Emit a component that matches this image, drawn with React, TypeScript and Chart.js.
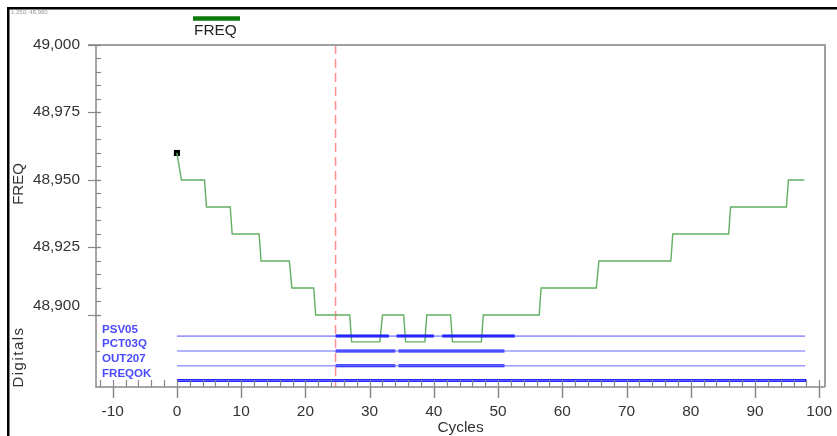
import React, { useEffect, useRef } from "react";
import { Chart, registerables } from "chart.js";

Chart.register(...registerables);

// FREQ analog trace (cycles, value)
const FREQ_X = [0, 0.7, 4.3, 4.6, 8.3, 8.6, 12.8, 13.1, 17.5, 17.9, 21.3, 21.6, 26.9, 27.2, 31.6, 32.0, 35.3, 35.6, 38.6, 38.9, 42.6, 42.9, 47.4, 47.7, 56.4, 56.7, 65.3, 65.7, 76.9, 77.2, 85.9, 86.2, 94.9, 95.2, 97.7];
const FREQ_Y = [48.96, 48.95, 48.95, 48.94, 48.94, 48.93, 48.93, 48.92, 48.92, 48.91, 48.91, 48.9, 48.9, 48.89, 48.89, 48.9, 48.9, 48.89, 48.89, 48.9, 48.9, 48.89, 48.89, 48.9, 48.9, 48.91, 48.91, 48.92, 48.92, 48.93, 48.93, 48.94, 48.94, 48.95, 48.95];

// Digital signals (top to bottom) and their ON intervals
const DIGITAL_NAMES = ["PSV05", "PCT03Q", "OUT207", "FREQOK"];
const PSV05_ON = [[24.7, 33.0], [34.2, 40.0], [41.3, 52.6]];
const PCT03Q_ON = [[24.7, 34.0], [34.5, 51.0]];
const OUT207_ON = [[24.7, 34.0], [34.5, 51.0]];
const FREQOK_ON = [[0, 98.0]];
const DIGITAL_ON = [PSV05_ON, PCT03Q_ON, OUT207_ON, FREQOK_ON];
const DIGITAL_RANGE = [0, 97.8];

const CURSOR_X = 24.7;
const X_TICKS = [-10, 0, 10, 20, 30, 40, 50, 60, 70, 80, 90, 100];
const Y_TICKS = [48.9, 48.925, 48.95, 48.975, 49.0];
const X_MIN = -12.6, X_MAX = 100.9;
const Y_MIN = 48.8733, Y_MAX = 49.0;

const fmt = (v: number) => v.toFixed(3).replace(".", ",");

function txt(ctx: CanvasRenderingContext2D, s: string, x: number, y: number, align: CanvasTextAlign, font: string, color: string, sx = 1.1) {
  ctx.save();
  ctx.font = font;
  ctx.fillStyle = color;
  ctx.textAlign = align;
  ctx.textBaseline = "middle";
  ctx.translate(x, y);
  ctx.scale(sx, 1);
  ctx.fillText(s, 0, 0);
  ctx.restore();
}

export default function App() {
  const ref = useRef<HTMLCanvasElement>(null);
  useEffect(() => {
    if (!ref.current) return;
    const rowOf = (i: number) => DIGITAL_NAMES.length - i; // row value on digital axis
    const datasets: any[] = [];
    DIGITAL_NAMES.forEach((name, i) => {
      const r = rowOf(i);
      datasets.push({
        label: name + " base",
        yAxisID: "yd",
        data: [{ x: DIGITAL_RANGE[0], y: r }, { x: DIGITAL_RANGE[1], y: r }],
        borderColor: i === 0 ? "rgba(60,60,255,0.9)" : "rgba(120,120,255,0.75)",
        borderWidth: i === 0 ? 1 : 1.5,
        pointRadius: 0,
      });
      const pts: any[] = [];
      DIGITAL_ON[i].forEach(([a, b]) => {
        pts.push({ x: a, y: r }, { x: b, y: r }, { x: b, y: null });
      });
      datasets.push({
        label: name,
        yAxisID: "yd",
        data: pts,
        borderColor: "#1414ff",
        borderWidth: 3,
        pointRadius: 0,
        spanGaps: false,
      });
    });
    datasets.push({
      label: "FREQ",
      yAxisID: "y",
      data: FREQ_X.map((x, i) => ({ x, y: FREQ_Y[i] })),
      borderColor: "#63b063",
      borderWidth: 1.4,
      pointRadius: 0,
      tension: 0,
    });
    datasets.push({
      label: "marker",
      yAxisID: "y",
      data: [{ x: FREQ_X[0], y: FREQ_Y[0] }],
      showLine: false,
      pointStyle: "rect",
      pointRadius: 4.3,
      backgroundColor: "#000",
      borderColor: "#000",
      borderWidth: 0,
    });

    const deco = {
      id: "deco",
      beforeDatasetsDraw(chart: any) {
        const ctx: CanvasRenderingContext2D = chart.ctx;
        const xs = chart.scales.x;
        const { top, bottom } = chart.chartArea;
        ctx.save();
        ctx.strokeStyle = "rgba(255,95,95,0.7)";
        ctx.lineWidth = 1.5;
        ctx.setLineDash([9, 5]);
        const cx = xs.getPixelForValue(CURSOR_X);
        ctx.beginPath();
        ctx.moveTo(cx, top);
        ctx.lineTo(cx, bottom);
        ctx.stroke();
        ctx.restore();
      },
      afterDraw(chart: any) {
        const ctx: CanvasRenderingContext2D = chart.ctx;
        const xs = chart.scales.x, ys = chart.scales.y, yd = chart.scales.yd;
        const { left, right, top, bottom } = chart.chartArea;
        ctx.save();
        // outer frame
        ctx.fillStyle = "#000";
        ctx.fillRect(7, 7, 830, 2.5);
        ctx.fillRect(7, 7, 2.5, 429);
        // plot borders
        ctx.strokeStyle = "#a0a0a0";
        ctx.lineWidth = 2;
        ctx.beginPath();
        ctx.moveTo(left - 8, top);
        ctx.lineTo(right, top);
        ctx.lineTo(right, bottom);
        ctx.stroke();
        ctx.strokeStyle = "#888";
        ctx.lineWidth = 1.5;
        ctx.beginPath();
        ctx.moveTo(left, top);
        ctx.lineTo(left, bottom);
        ctx.lineTo(right, bottom);
        ctx.stroke();
        // y ticks
        ctx.lineWidth = 1.2;
        for (let v = Y_TICKS[0]; v <= Y_MAX + 1e-9; v += 0.005) {
          const py = Math.round(ys.getPixelForValue(v)) + 0.5;
          ctx.beginPath();
          ctx.moveTo(left, py);
          ctx.lineTo(left + 5, py);
          ctx.stroke();
        }
        Y_TICKS.forEach((v) => {
          const py = Math.round(ys.getPixelForValue(v)) + 0.5;
          ctx.beginPath();
          ctx.moveTo(left - 8, py);
          ctx.lineTo(left + 4, py);
          ctx.stroke();
        });
        // digital axis tick
        const dy = Math.round((ys.getPixelForValue(Y_TICKS[0]) + bottom) / 2) + 0.5;
        ctx.beginPath();
        ctx.moveTo(left, dy);
        ctx.lineTo(left + 4, dy);
        ctx.stroke();
        // x ticks
        for (let v = -12; v <= 100; v += 2) {
          const px = Math.round(xs.getPixelForValue(v)) + 0.5;
          ctx.beginPath();
          ctx.moveTo(px, bottom);
          ctx.lineTo(px, bottom - 7);
          ctx.stroke();
        }
        ctx.lineWidth = 1.5;
        X_TICKS.forEach((v) => {
          const px = Math.round(xs.getPixelForValue(v)) + 0.5;
          ctx.beginPath();
          ctx.moveTo(px, bottom);
          ctx.lineTo(px, bottom + 11);
          ctx.stroke();
        });
        ctx.restore();

        const F = "14px 'Liberation Sans', Arial, sans-serif";
        const C = "#333";
        X_TICKS.forEach((v) => txt(ctx, String(v), xs.getPixelForValue(v), bottom + 25, "center", F, C));
        Y_TICKS.forEach((v, i) => {
          let py = ys.getPixelForValue(v);
          if (i === 0) py -= 9;
          txt(ctx, fmt(v), left - 16, py, "right", F, C);
        });
        txt(ctx, "Cycles", (left + right) / 2, bottom + 41, "center", F, C);

        // rotated titles
        ctx.save();
        ctx.font = "15px 'Liberation Sans', Arial, sans-serif";
        ctx.fillStyle = C;
        ctx.textAlign = "center";
        ctx.textBaseline = "middle";
        ctx.translate(19, 184);
        ctx.rotate(-Math.PI / 2);
        ctx.fillText("FREQ", 0, 0);
        ctx.restore();
        ctx.save();
        ctx.font = "15px 'Liberation Sans', Arial, sans-serif";
        (ctx as any).letterSpacing = "1.5px";
        ctx.fillStyle = C;
        ctx.textAlign = "center";
        ctx.textBaseline = "middle";
        ctx.translate(19, 357);
        ctx.rotate(-Math.PI / 2);
        ctx.fillText("Digitals", 0, 0);
        ctx.restore();

        // digital labels
        DIGITAL_NAMES.forEach((name, i) => {
          const py = yd.getPixelForValue(DIGITAL_NAMES.length - i) - 6.5;
          txt(ctx, name, left + 6, py, "left", "bold 11px 'Liberation Sans', Arial, sans-serif", "#4a4aff", 1.05);
        });

        // legend
        ctx.save();
        ctx.strokeStyle = "#0d7a0d";
        ctx.lineWidth = 4.5;
        ctx.beginPath();
        ctx.moveTo(193, 18.5);
        ctx.lineTo(240, 18.5);
        ctx.stroke();
        ctx.restore();
        txt(ctx, "FREQ", 194, 31, "left", F, "#222");

        // tiny cursor readout
        txt(ctx, "1,250; 48,960", 11, 12, "left", "6px 'Liberation Sans', Arial, sans-serif", "#999", 1.0);
      },
    };

    const chart = new Chart(ref.current, {
      type: "line",
      data: { datasets },
      options: {
        responsive: false,
        animation: false,
        devicePixelRatio: 1,
        layout: { padding: { left: 96, top: 45, right: 12, bottom: 49 } },
        scales: {
          x: { type: "linear", min: X_MIN, max: X_MAX, display: false },
          y: { type: "linear", min: Y_MIN, max: Y_MAX, display: false },
          yd: { type: "linear", min: 0.56, max: 23.67, display: false },
        },
        plugins: { legend: { display: false }, tooltip: { enabled: false } },
        events: [],
      },
      plugins: [deco],
    } as any);
    return () => chart.destroy();
  }, []);
  return (
    <canvas
      ref={ref}
      width={837}
      height={436}
      style={{ position: "absolute", left: 0, top: 0, width: 837, height: 436 }}
    />
  );
}
